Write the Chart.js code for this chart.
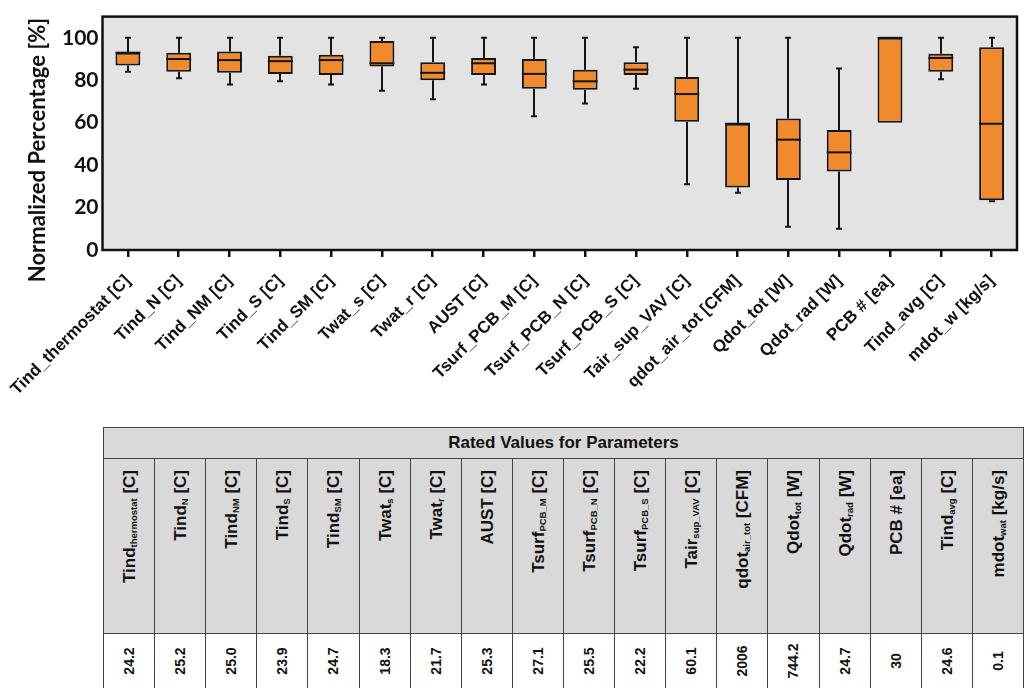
<!DOCTYPE html>
<html>
<head>
<meta charset="utf-8">
<title>Normalized parameter ranges</title>
<script src="https://cdn.jsdelivr.net/npm/chart.js@4.4.1/dist/chart.umd.min.js"></script>
<style>
  html, body { margin: 0; padding: 0; background: #fff; }
  body { width: 1029px; height: 688px; position: relative; overflow: hidden;
         font-family: "Liberation Sans", Arial, sans-serif; color: #111; }
  #chartBox { position: absolute; left: 0; top: 0; width: 1029px; height: 420px; }
  table.rated { position: absolute; left: 103px; top: 427px; width: 921px;
                border-collapse: collapse; table-layout: fixed; }
  table.rated td { border: 1.5px solid #444; padding: 0; position: relative; }
  table.rated tr.title td { height: 30px; background: #d9d9d9; text-align: center;
                            font-weight: bold; font-size: 17px; }
  table.rated tr.head td { height: 174px; background: #d9d9d9; }
  table.rated tr.vals td { height: 54px; background: #fff; }
  .rot { position: absolute; left: 50%; top: 11px; writing-mode: vertical-rl;
         transform: translateX(-50%) rotate(180deg); white-space: nowrap;
         font-weight: bold; font-size: 17px; line-height: 19px; }
  .rot sub { font-size: 9.5px; vertical-align: sub; line-height: 0; }
  .rotv { position: absolute; left: 50%; top: 50%; writing-mode: vertical-rl;
          transform: translate(-50%, -50%) rotate(180deg); white-space: nowrap;
          font-weight: bold; font-size: 14px; line-height: 16px; }
</style>
</head>
<body>
<div id="chartBox"><canvas id="boxChart" width="1029" height="420"></canvas></div>
<table class="rated" id="ratedTable"></table>

<script>
// ---- box plot data (normalized, %) ----
const categories = [
  'Tind_thermostat [C]', 'Tind_N [C]', 'Tind_NM [C]', 'Tind_S [C]', 'Tind_SM [C]',
  'Twat_s [C]', 'Twat_r [C]', 'AUST [C]', 'Tsurf_PCB_M [C]', 'Tsurf_PCB_N [C]',
  'Tsurf_PCB_S [C]', 'Tair_sup_VAV [C]', 'qdot_air_tot [CFM]', 'Qdot_tot [W]',
  'Qdot_rad [W]', 'PCB # [ea]', 'Tind_avg [C]', 'mdot_w [kg/s]'
];
const whiskerLow  = [84, 81, 78, 79.5, 78, 75, 71, 78, 63, 69, 76, 31, 27, 11, 10, 60, 80.5, 23];
const quartile1   = [87, 84, 83.5, 83, 82.5, 86.5, 80, 82.5, 76, 75.5, 82.5, 60.5, 29.5, 33, 37, 60, 84, 23.5];
const medians     = [93, 90, 89.5, 89, 89.5, 88, 83.5, 88, 83, 79.5, 85, 73.5, 59.5, 52, 46, 100, 90.5, 59.5];
const quartile3   = [93, 93, 93.5, 91.5, 92, 98.5, 88.5, 90.5, 90, 85, 88.5, 81.5, 59.5, 62, 56.5, 100, 92.5, 95.5];
const whiskerHigh = [100, 100, 100, 100, 100, 100, 100, 100, 100, 100, 95.5, 100, 100, 100, 85.5, 100, 100, 100];
const yTicks = [0, 20, 40, 60, 80, 100];

// ---- rated values table ----
const paramBase = ['Tind', 'Tind', 'Tind', 'Tind', 'Tind', 'Twat', 'Twat', 'AUST', 'Tsurf', 'Tsurf',
                   'Tsurf', 'Tair', 'qdot', 'Qdot', 'Qdot', 'PCB #', 'Tind', 'mdot'];
const paramSub  = ['thermostat', 'N', 'NM', 'S', 'SM', 's', 'r', '', 'PCB_M', 'PCB_N',
                   'PCB_S', 'sup_VAV', 'air_tot', 'tot', 'rad', '', 'avg', 'wat'];
const paramUnit = ['[C]', '[C]', '[C]', '[C]', '[C]', '[C]', '[C]', '[C]', '[C]', '[C]',
                   '[C]', '[C]', '[CFM]', '[W]', '[W]', '[ea]', '[C]', '[kg/s]'];
const ratedValues = ['24.2', '25.2', '25.0', '23.9', '24.7', '18.3', '21.7', '25.3', '27.1', '25.5',
                     '22.2', '60.1', '2006', '744.2', '24.7', '30', '24.6', '0.1'];

const BOX_FILL = '#f08a2c';
const INK = '#151515';

// whiskers go under the boxes, medians and the frame on top
const boxPlotDecor = {
  id: 'boxPlotDecor',
  beforeDraw(chart) {
    const { ctx, chartArea: a } = chart;
    ctx.save();
    ctx.fillStyle = '#e3e3e3';
    ctx.fillRect(a.left, a.top, a.right - a.left, a.bottom - a.top);
    ctx.restore();
  },
  beforeDatasetsDraw(chart) {
    const { ctx, scales: { y } } = chart;
    const bars = chart.getDatasetMeta(0).data;
    ctx.save();
    ctx.strokeStyle = INK;
    ctx.lineWidth = 2;
    bars.forEach((bar, i) => {
      const cx = Math.round(bar.x);
      const segs = [[quartile3[i], whiskerHigh[i]], [quartile1[i], whiskerLow[i]]];
      segs.forEach(([from, to]) => {
        if (from === to) return;
        const y0 = y.getPixelForValue(from), y1 = y.getPixelForValue(to);
        ctx.beginPath();
        ctx.moveTo(cx, y0);
        ctx.lineTo(cx, y1);
        ctx.moveTo(cx - 3, y1);
        ctx.lineTo(cx + 3, y1);
        ctx.stroke();
      });
    });
    ctx.restore();
  },
  afterDatasetsDraw(chart) {
    const { ctx, chartArea: a, scales: { y } } = chart;
    const bars = chart.getDatasetMeta(0).data;
    ctx.save();
    ctx.strokeStyle = INK;
    ctx.lineWidth = 2;
    bars.forEach((bar, i) => {
      const my = y.getPixelForValue(medians[i]);
      ctx.beginPath();
      ctx.moveTo(bar.x - bar.width / 2, my);
      ctx.lineTo(bar.x + bar.width / 2, my);
      ctx.stroke();
    });
    ctx.lineWidth = 2.5;
    ctx.strokeStyle = '#111';
    ctx.strokeRect(a.left, a.top, a.right - a.left, a.bottom - a.top);

    // y axis title
    ctx.translate(38, 150);
    ctx.rotate(-Math.PI / 2);
    ctx.font = 'bold 22px Lato';
    ctx.fillStyle = '#111';
    ctx.textAlign = 'center';
    ctx.textBaseline = 'middle';
    ctx.fillText('Normalized Percentage [%]', 0, 0);
    ctx.restore();
  }
};

new Chart(document.getElementById('boxChart').getContext('2d'), {
  type: 'bar',
  data: {
    labels: categories,
    datasets: [{
      data: categories.map((c, i) => [quartile1[i], quartile3[i]]),
      backgroundColor: BOX_FILL,
      borderColor: INK,
      borderWidth: 2,
      borderSkipped: false,
      barPercentage: 0.49,
      categoryPercentage: 1
    }]
  },
  options: {
    responsive: false,
    animation: false,
    devicePixelRatio: 1,
    layout: { padding: { top: 12, right: 12, left: 0, bottom: 0 } },
    plugins: { legend: { display: false }, tooltip: { enabled: false } },
    scales: {
      x: {
        afterFit(scale) {
          scale.height = 170;
          // keep the long first label from pushing the plot area right
          scale.paddingLeft = 0;
          scale.paddingRight = 0;
        },
        border: { display: false },
        grid: { offset: false, drawOnChartArea: false, drawTicks: true, tickLength: 7, lineWidth: 2.5, color: '#111' },
        ticks: {
          autoSkip: false, minRotation: 45, maxRotation: 45, padding: 14,
          color: '#111', font: { family: 'Liberation Sans', weight: 'bold', size: 17 }
        }
      },
      y: {
        min: 0,
        max: 110,
        afterFit(scale) { scale.width = 102.5; },
        afterBuildTicks(scale) { scale.ticks = yTicks.map(v => ({ value: v })); },
        border: { display: false },
        grid: { display: false, drawTicks: false },
        ticks: {
          padding: 4, color: '#111',
          font: { family: 'Lato', weight: 'bold', size: 21 }
        }
      }
    }
  },
  plugins: [boxPlotDecor]
});

// ---- build the rated values table ----
function buildTable() {
  const table = document.getElementById('ratedTable');
  let html = '<tr class="title"><td colspan="' + categories.length + '">Rated Values for Parameters</td></tr>';
  html += '<tr class="head">';
  paramBase.forEach((base, i) => {
    const sub = paramSub[i] ? '<sub>' + paramSub[i] + '</sub>' : '';
    html += '<td><div class="rot">' + base + sub + ' ' + paramUnit[i] + '</div></td>';
  });
  html += '</tr><tr class="vals">';
  ratedValues.forEach(v => { html += '<td><div class="rotv">' + v + '</div></td>'; });
  html += '</tr>';
  table.innerHTML = html;
}
buildTable();
</script>
</body>
</html>
